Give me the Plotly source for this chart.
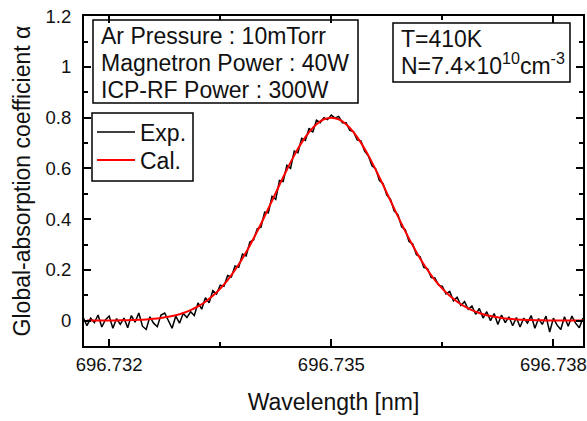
import plotly.graph_objects as go

# ---------------- data ----------------
wl_exp = [
    696.73165, 696.73170, 696.73175, 696.73180, 696.73185, 696.73190, 696.73195, 696.73200, 696.73205, 696.73210,
    696.73215, 696.73220, 696.73225, 696.73230, 696.73235, 696.73240, 696.73245, 696.73250, 696.73255, 696.73260,
    696.73265, 696.73270, 696.73275, 696.73280, 696.73285, 696.73290, 696.73295, 696.73300, 696.73305, 696.73310,
    696.73315, 696.73320, 696.73325, 696.73330, 696.73335, 696.73340, 696.73345, 696.73350, 696.73355, 696.73360,
    696.73365, 696.73370, 696.73375, 696.73380, 696.73385, 696.73390, 696.73395, 696.73400, 696.73405, 696.73410,
    696.73415, 696.73420, 696.73425, 696.73430, 696.73435, 696.73440, 696.73445, 696.73450, 696.73455, 696.73460,
    696.73465, 696.73470, 696.73475, 696.73480, 696.73485, 696.73490, 696.73495, 696.73500, 696.73505, 696.73510,
    696.73515, 696.73520, 696.73525, 696.73530, 696.73535, 696.73540, 696.73545, 696.73550, 696.73555, 696.73560,
    696.73565, 696.73570, 696.73575, 696.73580, 696.73585, 696.73590, 696.73595, 696.73600, 696.73605, 696.73610,
    696.73615, 696.73620, 696.73625, 696.73630, 696.73635, 696.73640, 696.73645, 696.73650, 696.73655, 696.73660,
    696.73665, 696.73670, 696.73675, 696.73680, 696.73685, 696.73690, 696.73695, 696.73700, 696.73705, 696.73710,
    696.73715, 696.73720, 696.73725, 696.73730, 696.73735, 696.73740, 696.73745, 696.73750, 696.73755, 696.73760,
    696.73765, 696.73770, 696.73775, 696.73780, 696.73785, 696.73790, 696.73795, 696.73800, 696.73805, 696.73810,
    696.73815, 696.73820, 696.73825, 696.73830, 696.73835, 696.73840,
]
alpha_exp = [
    0.012, -0.020, 0.010, -0.008, 0.022, -0.025, 0.004, 0.018, -0.030, 0.008,
    -0.015, 0.010, -0.028, 0.020, -0.006, 0.030, -0.022, -0.035, 0.015, -0.010,
    -0.024, 0.022, 0.030, 0.000, -0.030, 0.018, -0.010, 0.028, 0.012, 0.035,
    0.020, 0.070, 0.045, 0.090, 0.070, 0.118, 0.105, 0.140, 0.135, 0.178,
    0.172, 0.215, 0.210, 0.262, 0.255, 0.310, 0.318, 0.362, 0.368, 0.428,
    0.425, 0.490, 0.478, 0.552, 0.548, 0.612, 0.600, 0.668, 0.662, 0.718,
    0.710, 0.758, 0.742, 0.790, 0.780, 0.800, 0.792, 0.810, 0.798, 0.805,
    0.780, 0.780, 0.750, 0.745, 0.712, 0.708, 0.668, 0.650, 0.610, 0.598,
    0.552, 0.540, 0.495, 0.478, 0.432, 0.418, 0.370, 0.358, 0.312, 0.302,
    0.260, 0.252, 0.210, 0.205, 0.170, 0.168, 0.140, 0.135, 0.105, 0.115,
    0.078, 0.092, 0.060, 0.075, 0.045, 0.058, 0.025, 0.048, 0.010, 0.035,
    0.000, 0.028, -0.015, 0.022, -0.008, 0.015, -0.020, 0.012, -0.025, 0.010,
    -0.010, 0.020, -0.030, 0.008, -0.015, 0.018, -0.045, 0.010, -0.018, -0.035,
    0.015, -0.022, 0.018, -0.010, -0.028, 0.010,
]

wl_cal = [
    696.7317, 696.7318, 696.7319, 696.7320, 696.7321, 696.7322, 696.7323, 696.7324, 696.7325, 696.7326,
    696.7327, 696.7328, 696.7329, 696.7330, 696.7331, 696.7332, 696.7333, 696.7334, 696.7335, 696.7336,
    696.7337, 696.7338, 696.7339, 696.7340, 696.7341, 696.7342, 696.7343, 696.7344, 696.7345, 696.7346,
    696.7347, 696.7348, 696.7349, 696.7350, 696.7351, 696.7352, 696.7353, 696.7354, 696.7355, 696.7356,
    696.7357, 696.7358, 696.7359, 696.7360, 696.7361, 696.7362, 696.7363, 696.7364, 696.7365, 696.7366,
    696.7367, 696.7368, 696.7369, 696.7370, 696.7371, 696.7372, 696.7373, 696.7374, 696.7375, 696.7376,
    696.7377, 696.7378, 696.7379, 696.7380, 696.7381, 696.7382, 696.7383, 696.7384,
]
alpha_cal = [
    0.0001, 0.0002, 0.0003, 0.0005, 0.0008, 0.0013, 0.0020, 0.0031, 0.0047, 0.0070,
    0.0104, 0.0150, 0.0213, 0.0299, 0.0412, 0.0558, 0.0744, 0.0976, 0.1259, 0.1597,
    0.1994, 0.2450, 0.2960, 0.3518, 0.4111, 0.4726, 0.5345, 0.5948, 0.6512, 0.7014,
    0.7430, 0.7741, 0.7935, 0.8000, 0.7935, 0.7741, 0.7430, 0.7014, 0.6512, 0.5948,
    0.5345, 0.4726, 0.4111, 0.3518, 0.2960, 0.2450, 0.1994, 0.1597, 0.1259, 0.0976,
    0.0744, 0.0558, 0.0412, 0.0299, 0.0213, 0.0150, 0.0104, 0.0070, 0.0047, 0.0031,
    0.0020, 0.0013, 0.0008, 0.0005, 0.0003, 0.0002, 0.0001, 0.0001,
]

x_ticks = [696.732, 696.735, 696.738]
x_ticktext = ["696.732", "696.735", "696.738"]
x_minor = [696.7335, 696.7365]
y_ticks = [0, 0.2, 0.4, 0.6, 0.8, 1.0, 1.2]
y_ticktext = ["0", "0.2", "0.4", "0.6", "0.8", "1", "1.2"]

cond_lines = ["Ar Pressure : 10mTorr", "Magnetron Power : 40W", "ICP-RF Power : 300W"]
param_lines = ["T=410K", "N=7.4×10<sup>10</sup>cm<sup>-3</sup>"]

FONT = "Liberation Sans, Arial, sans-serif"
INK = "#111111"

# plot area in pixels (for placing decorations in paper coords)
PL, PR, PT, PB = 84, 583, 16, 346
def px_x(x):
    return (x - PL) / (PR - PL)
def px_y(y):
    return (PB - y) / (PB - PT)

fig = go.Figure()
fig.add_trace(go.Scatter(x=wl_exp, y=alpha_exp, mode="lines", name="Exp.",
                         line=dict(color="black", width=1.5), legend="legend"))
fig.add_trace(go.Scatter(x=wl_cal, y=alpha_cal, mode="lines", name="Cal.",
                         line=dict(color="#ff0000", width=2, shape="spline"), legend="legend2"))

axis_common = dict(
    showline=True, linecolor="black", linewidth=2, mirror="allticks",
    ticks="inside", ticklen=7, tickwidth=1.5, tickcolor="black",
    showgrid=False, zeroline=False,
    tickfont=dict(family=FONT, size=18.5, color=INK),
)

fig.update_xaxes(
    **axis_common,
    range=[696.73166, 696.73840],
    tickmode="array", tickvals=x_ticks, ticktext=x_ticktext,
    minor=dict(tickmode="array", tickvals=x_minor, ticks="inside", ticklen=4,
               tickwidth=1.5, tickcolor="black", showgrid=False),
    ticklabelstandoff=1,
    title=dict(text="Wavelength [nm]", font=dict(family=FONT, size=23, color=INK), standoff=20),
)
fig.update_yaxes(
    **axis_common,
    range=[-0.1, 1.2005],
    tickmode="array", tickvals=y_ticks, ticktext=y_ticktext,
    minor=dict(dtick=0.1, tick0=0, ticks="inside", ticklen=4,
               tickwidth=1.5, tickcolor="black", showgrid=False),
    ticklabelstandoff=7,
    title=dict(text="Global-absorption coefficient α", font=dict(family=FONT, size=23, color=INK), standoff=9),
)

# condition box
for txt, yc in zip(cond_lines, [36, 63.5, 90]):
    fig.add_annotation(xref="paper", yref="paper", x=px_x(99), y=px_y(yc),
                       xanchor="left", yanchor="middle", text=txt, showarrow=False,
                       font=dict(family=FONT, size=23, color=INK))
fig.add_shape(type="rect", xref="paper", yref="paper",
              x0=px_x(93), x1=px_x(358), y0=px_y(103), y1=px_y(20),
              line=dict(color="black", width=1.5), fillcolor="rgba(0,0,0,0)")

# parameter box
for txt, yc in zip(param_lines, [39, 64]):
    fig.add_annotation(xref="paper", yref="paper", x=px_x(399), y=px_y(yc),
                       xanchor="left", yanchor="middle", text=txt, showarrow=False,
                       font=dict(family=FONT, size=23, color=INK))
fig.add_shape(type="rect", xref="paper", yref="paper",
              x0=px_x(393), x1=px_x(570), y0=px_y(82), y1=px_y(23),
              line=dict(color="black", width=1.5), fillcolor="rgba(0,0,0,0)")

# legend frame
fig.add_shape(type="rect", xref="paper", yref="paper",
              x0=px_x(92), x1=px_x(193), y0=px_y(181), y1=px_y(113),
              line=dict(color="black", width=1.5), fillcolor="rgba(0,0,0,0)")

legend_common = dict(xanchor="left", yanchor="middle", borderwidth=0,
                     bgcolor="rgba(0,0,0,0)", itemwidth=38,
                     font=dict(family=FONT, size=23, color=INK))

fig.update_layout(
    width=587, height=421,
    margin=dict(l=PL, r=587 - PR, t=PT, b=421 - PB, autoexpand=False),
    paper_bgcolor="white", plot_bgcolor="white",
    font=dict(family=FONT, color=INK),
    showlegend=True,
    legend=dict(x=px_x(92), y=px_y(132), **legend_common),
    legend2=dict(x=px_x(92), y=px_y(160), **legend_common),
)

fig.write_html("out.html")
